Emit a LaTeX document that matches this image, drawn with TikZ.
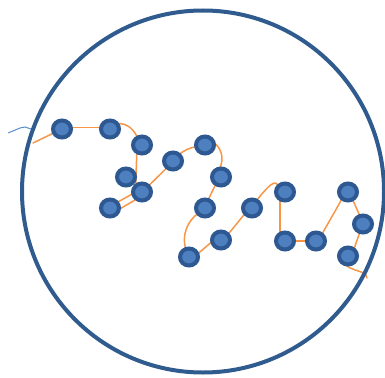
\documentclass[tikz,border=0pt]{standalone}
\usetikzlibrary{backgrounds}
\definecolor{ringcol}{HTML}{2F5B8E}
\definecolor{beadout}{HTML}{2D5891}
\definecolor{beadin}{HTML}{4E80C0}
\definecolor{chain}{HTML}{F79646}
\definecolor{squig}{HTML}{5B8ED0}
\begin{document}
\begin{tikzpicture}[x=1pt,y=1pt,
  bead/.style={circle, draw=beadout, fill=beadin, line width=4pt,
    minimum size=17pt, inner sep=0pt, outer sep=0pt, xscale=1.06},
  link/.style={draw=chain, line width=1.5pt, line cap=round},
  ringstyle/.style={circle, draw=ringcol, line width=4pt, minimum size=362pt, inner sep=0pt, outer sep=0pt}]
\useasboundingbox (0,0) rectangle (385,-377);
\node[ringstyle] (ring) at (203,-191.5) {};
\node[bead] (n1) at (62,-129) {};
\node[bead] (n2) at (110,-129) {};
\node[bead] (n3) at (142,-145) {};
\node[bead] (n4) at (126,-177) {};
\node[bead] (n5) at (142,-192) {};
\node[bead] (n6) at (110,-208) {};
\node[bead] (n7) at (173,-161) {};
\node[bead] (n8) at (205,-145) {};
\node[bead] (n9) at (221,-177) {};
\node[bead] (n10) at (205,-208) {};
\node[bead] (n11) at (221,-240) {};
\node[bead] (n12) at (189,-257) {};
\node[bead] (n13) at (252,-208) {};
\node[bead] (n14) at (285,-192) {};
\node[bead] (n15) at (285,-241) {};
\node[bead] (n16) at (316,-241) {};
\node[bead] (n17) at (348,-192) {};
\node[bead] (n18) at (363,-224) {};
\node[bead] (n19) at (348,-256) {};
\coordinate (s) at (33,-143);
\coordinate (e) at (367,-278);
\coordinate (sq) at (8,-133);
\begin{scope}[on background layer]
\draw[squig, line width=1pt] (sq) -- (20,-128) -- (25,-127) -- (ring.160);
\draw[link] (s) -- (n1);
\draw[link] (n1.10) -- (n2.170);
\draw[link] (n2.40) .. controls (128,-123) and (134,-130) .. (n3.120);
\draw[link] (n3.235) -- (n5.135);
\draw[link] (n6.40) -- (n5.190);
\draw[link] (n6.-10) -- (n5.235);
\draw[link] (n5.45) -- (n7.230);
\draw[link] (n7.50) .. controls (187,-149) .. (n8.190);
\draw[link] (n8.20) .. controls (221,-148) and (225,-158) .. (n9.100);
\draw[link] (n9.235) -- (n10.70);
\draw[link] (n10.220) .. controls (188,-220) and (181,-236) .. (n12.110);
\draw[link] (n12.20) -- (n11.190);
\draw[link] (n11.40) -- (n13.220);
\draw[link] (n13.60) .. controls (268,-186) and (276,-178) .. (n14.140);
\draw[link] (n14.235) -- (n15.125);
\draw[link] (n15) -- (n16);
\draw[link] (n16.50) -- (n17.230);
\draw[link] (n17.-60) -- (n18.110);
\draw[link] (n18.250) -- (n19.50);
\draw[link] (n19.240) .. controls (352,-272) and (366,-270) .. (e);
\end{scope}
\end{tikzpicture}
\end{document}
